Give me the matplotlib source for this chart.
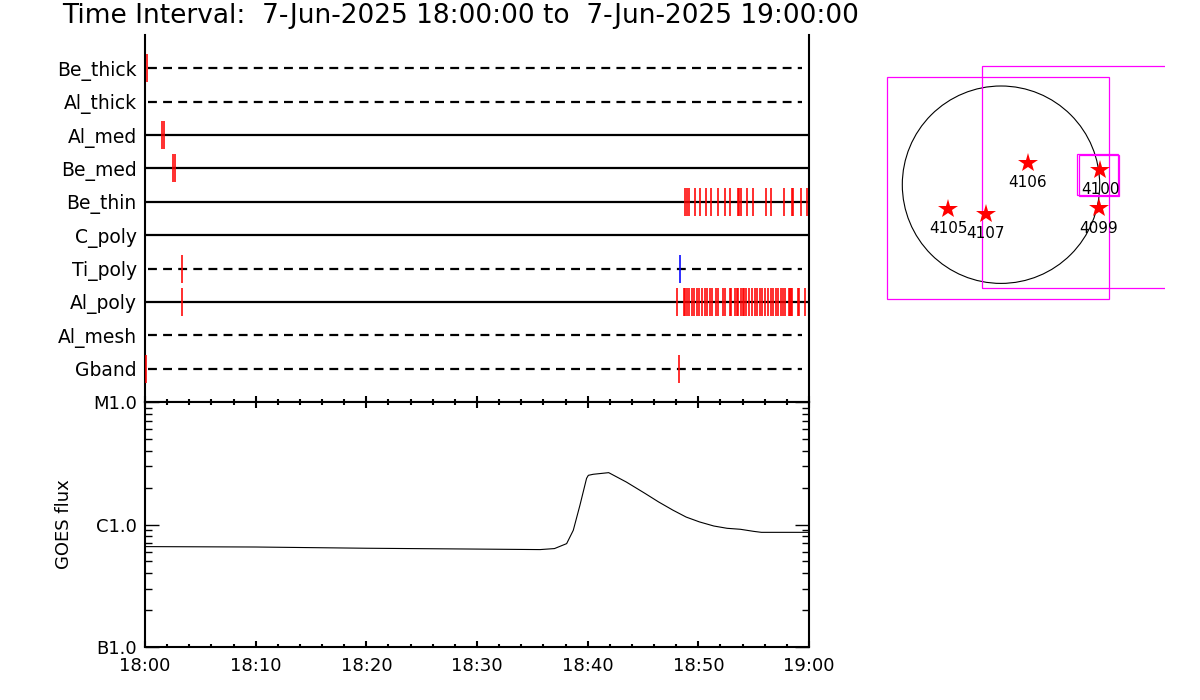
import numpy as np
import matplotlib
matplotlib.use("Agg")
import matplotlib.pyplot as plt
from matplotlib.ticker import FixedLocator, MultipleLocator, NullFormatter, LogLocator
from matplotlib.patches import Rectangle, Circle

plt.rcParams['font.family'] = ['DejaVu Sans']

# ---------------- data ----------------
title = "Time Interval:  7-Jun-2025 18:00:00 to  7-Jun-2025 19:00:00"

filters = ['Be_thick', 'Al_thick', 'Al_med', 'Be_med', 'Be_thin',
           'C_poly', 'Ti_poly', 'Al_poly', 'Al_mesh', 'Gband']
dashed_rows = ['Be_thick', 'Al_thick', 'Ti_poly', 'Al_mesh', 'Gband']

# exposure times, minutes after 18:00
exp_be_thick = [0.2]
exp_al_thick = []
exp_al_med = [1.50, 1.72]
exp_be_med = [2.49, 2.73]
exp_be_thin = [48.82, 48.97, 49.18, 49.67, 50.18, 50.66, 51.17, 51.77, 52.38,
               52.89, 53.56, 53.70, 53.85, 54.37, 54.97, 56.09, 56.59, 57.74,
               58.43, 58.58, 59.25, 59.79]
exp_c_poly = []
exp_ti_poly = [3.37]
exp_ti_poly_blue = [48.37]
exp_al_poly = [3.37, 48.10, 48.68, 48.77, 48.97, 49.18, 49.43, 49.63, 49.88,
               50.09, 50.33, 50.57, 50.78, 51.02, 51.26, 51.57, 51.80, 52.23,
               52.43, 52.83, 52.95, 53.34, 53.49, 53.61, 53.83, 54.06, 54.12,
               54.33, 54.58, 54.85, 55.09, 55.33, 55.54, 55.78, 56.05, 56.27,
               56.54, 56.77, 56.99, 57.23, 57.47, 57.68, 57.86, 58.16, 58.25,
               58.34, 58.46, 59.00, 59.12, 59.66]
exp_al_mesh = []
exp_gband = [0.06, 48.25]

exposures = {
    'Be_thick': exp_be_thick, 'Al_thick': exp_al_thick, 'Al_med': exp_al_med,
    'Be_med': exp_be_med, 'Be_thin': exp_be_thin, 'C_poly': exp_c_poly,
    'Ti_poly': exp_ti_poly, 'Al_poly': exp_al_poly, 'Al_mesh': exp_al_mesh,
    'Gband': exp_gband,
}

# GOES flux (W/m^2), minutes after 18:00
goes_t = [0, 10, 20, 30, 35.7, 37.0, 38.1, 38.7, 39.3, 39.9, 40.06, 40.5, 41.9,
          43.5, 45.2, 46.4, 47.7, 48.9, 50.1, 51.4, 52.6, 53.8, 55.0, 55.7, 59.8, 60]
goes_flux = [6.6e-7, 6.55e-7, 6.4e-7, 6.3e-7, 6.24e-7, 6.36e-7, 6.98e-7, 8.97e-7,
             1.435e-6, 2.38e-6, 2.52e-6, 2.57e-6, 2.65e-6, 2.22e-6, 1.79e-6,
             1.53e-6, 1.31e-6, 1.15e-6, 1.05e-6, 9.72e-7, 9.31e-7, 9.14e-7,
             8.79e-7, 8.63e-7, 8.63e-7, 8.63e-7]

time_ticks = [0, 10, 20, 30, 40, 50, 60]
time_labels = ['18:00', '18:10', '18:20', '18:30', '18:40', '18:50', '19:00']
goes_ticks = [1e-7, 1e-6, 1e-5]
goes_labels = ['B1.0', 'C1.0', 'M1.0']

# Solar map (arcsec)
sun_radius = 945
ar_numbers = ['4106', '4100', '4099', '4105', '4107']
ar_x = [256, 948, 938, -507, -144]
ar_y = [211, 141, -226, -233, -281]
fov_x0 = [-1089, -185, 725, 747]
fov_y0 = [-1097, -992, -99, -108]
fov_w = [2126, 2125, 399, 386]
fov_h = [2125, 2128, 390, 392]

# ---------------- figure ----------------
W, H = 1200, 700
fig = plt.figure(figsize=(12, 7), dpi=100)

def px_axes(x0, y0, x1, y1):
    return fig.add_axes([x0 / W, 1 - y1 / H, (x1 - x0) / W, (y1 - y0) / H])

fig.text(62 / W, 1 - 16 / H, title, fontsize=19, ha='left', va='center')

# ---- upper panel (exposures) ----
ax1 = px_axes(145, 35, 809, 402)
ax1.set_xlim(0, 60)
ax1.set_ylim(len(filters), -1)
for i, name in enumerate(filters):
    if name in dashed_rows:
        ax1.plot([0.3, 59.4], [i, i], color='black', lw=1.6, ls=(0, (4.0, 2.8)))
    else:
        ax1.plot([0, 60], [i, i], color='black', lw=1.6)
    t = exposures[name]
    if len(t):
        ax1.vlines(t, i - 0.42, i + 0.42, color='red', lw=1.15, zorder=4)
ax1.vlines(exp_ti_poly_blue, filters.index('Ti_poly') - 0.42,
           filters.index('Ti_poly') + 0.42, color='blue', lw=1.15, zorder=4)
ax1.set_yticks(range(len(filters)))
ax1.set_yticklabels(filters, fontsize=13.5)
ax1.tick_params(axis='y', length=0, pad=6)
ax1.xaxis.set_major_locator(MultipleLocator(10))
ax1.xaxis.set_minor_locator(MultipleLocator(2))
ax1.xaxis.set_major_formatter(NullFormatter())
ax1.tick_params(axis='x', which='major', direction='in', length=4.5, width=1.5,
                top=False, bottom=True)
ax1.tick_params(axis='x', which='minor', direction='in', length=2.2, width=1.5,
                top=False, bottom=True)
ax1.spines['top'].set_visible(False)
for s in ax1.spines.values():
    s.set_linewidth(1.5)

# ---- lower panel (GOES) ----
ax2 = px_axes(145, 402, 809, 647)
ax2.plot(goes_t, goes_flux, color='black', lw=0.8)
ax2.set_yscale('log')
ax2.set_ylim(1e-7, 1e-5)
ax2.set_xlim(0, 60)
ax2.yaxis.set_major_locator(FixedLocator(goes_ticks))
ax2.set_yticklabels(goes_labels, fontsize=13)
ax2.yaxis.set_minor_locator(LogLocator(base=10, subs=np.arange(2, 10)))
ax2.yaxis.set_minor_formatter(NullFormatter())
ax2.set_xticks(time_ticks)
ax2.set_xticklabels(time_labels, fontsize=13)
ax2.xaxis.set_minor_locator(MultipleLocator(2))
ax2.tick_params(axis='y', which='major', direction='in', length=10, width=1,
                left=True, right=True, pad=6)
ax2.tick_params(axis='y', which='minor', direction='in', length=5, width=1,
                left=True, right=True)
ax2.tick_params(axis='x', which='major', direction='in', length=4.5, width=1.5,
                top=True, bottom=True, pad=7)
ax2.tick_params(axis='x', which='minor', direction='in', length=2.2, width=1.5,
                top=True, bottom=True)
ax2.set_ylabel('GOES flux', fontsize=13, labelpad=14)
for s in ax2.spines.values():
    s.set_linewidth(1.5)

# ---- solar map ----
sc = 945 / 98.7  # arcsec per pixel
cx, cy = 1001, 184.7
ax3 = px_axes(870, 55, 1165, 310)
ax3.set_xlim((870 - cx) * sc, (1165 - cx) * sc)
ax3.set_ylim((cy - 310) * sc, (cy - 55) * sc)
ax3.axis('off')
ax3.add_patch(Circle((0, 0), sun_radius, fill=False, ec='black', lw=0.8))
for x0, y0, w, h in zip(fov_x0, fov_y0, fov_w, fov_h):
    ax3.add_patch(Rectangle((x0, y0), w, h, fill=False, ec='#ff00ff', lw=0.9,
                            clip_on=True))
ax3.plot(ar_x, ar_y, ls='none', marker='*', ms=15, color='red', mew=0)
for n, x, y in zip(ar_numbers, ar_x, ar_y):
    ax3.text(x, y - 190, n, fontsize=11, ha='center', va='center')

fig.savefig('out.png', dpi=100)
